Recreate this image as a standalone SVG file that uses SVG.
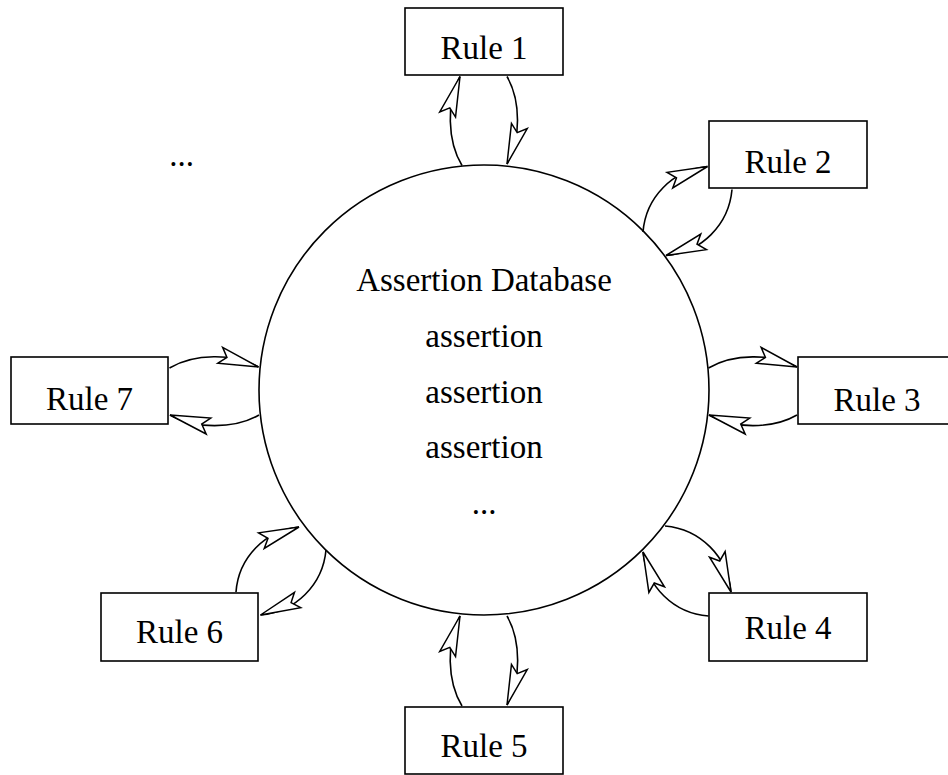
<svg xmlns="http://www.w3.org/2000/svg" width="948" height="775" viewBox="0 0 948 775">
<style>
.box{fill:#fff;stroke:#000;stroke-width:1.6}
.db{fill:#fff;stroke:#000;stroke-width:1.6}
.t{font-family:"Liberation Serif","Times New Roman",serif;font-size:33px;fill:#000;text-anchor:middle}
.c{fill:none;stroke:#000;stroke-width:1.6}
.ah{fill:#fff;stroke:#000;stroke-width:1.5;stroke-linejoin:miter}
</style>
<defs>
<path id="ah" class="ah" d="M0,0 L-40,-8.3 L-33,0 L-40,8.3 Z"/>
</defs>
<rect width="948" height="775" fill="#fff"/>
<g id="node-db">
<circle class="db" cx="484" cy="390" r="225"/>
<text class="t" x="484" y="291">Assertion Database</text>
<text class="t" x="484" y="347">assertion</text>
<text class="t" x="484" y="402.5">assertion</text>
<text class="t" x="484" y="458">assertion</text>
<text class="t" x="484" y="514">...</text>
</g>
<g id="node-rule1"><rect class="box" x="405" y="8" width="158" height="67"/><text class="t" x="484" y="58.5">Rule 1</text></g>
<g id="node-rule2"><rect class="box" x="709" y="121" width="158" height="67"/><text class="t" x="788" y="173">Rule 2</text></g>
<g id="node-rule3"><rect class="box" x="798" y="357" width="158" height="67"/><text class="t" x="877" y="410.5">Rule 3</text></g>
<g id="node-rule4"><rect class="box" x="709" y="593" width="158" height="68"/><text class="t" x="788" y="639">Rule 4</text></g>
<g id="node-rule5"><rect class="box" x="405" y="707" width="158" height="67"/><text class="t" x="484" y="757">Rule 5</text></g>
<g id="node-rule6"><rect class="box" x="101" y="593" width="157" height="68"/><text class="t" x="179.5" y="643">Rule 6</text></g>
<g id="node-rule7"><rect class="box" x="11" y="357" width="157" height="67"/><text class="t" x="89.5" y="410">Rule 7</text></g>
<g id="dots"><text class="t" x="181.5" y="166">...</text></g>
<g id="connectors">
<path class="c" d="M462,165.5 C447.2,141.2 446.3,101.5 460,76.5"/>
<use href="#ah" transform="translate(460,76.5) rotate(-72)"/>
<path class="c" d="M507,76.5 C521,100.7 521,139.8 507,164"/>
<use href="#ah" transform="translate(507,164) rotate(108)"/>
<path class="c" d="M643,232 C645.8,197.2 672.8,169.8 707.5,166.5"/>
<use href="#ah" transform="translate(707.5,166.5) rotate(-20)"/>
<path class="c" d="M732,189.5 C728.9,224.8 701.3,252.4 666,255.5"/>
<use href="#ah" transform="translate(666,255.5) rotate(160)"/>
<path class="c" d="M708.5,368 C732.9,353.6 772.3,353.1 797,367"/>
<use href="#ah" transform="translate(797,367) rotate(17)"/>
<path class="c" d="M797,415 C772.6,429.1 733.4,429.1 709,415"/>
<use href="#ah" transform="translate(709,415) rotate(196)"/>
<path class="c" d="M665,526 C700.3,529.1 727.9,556.7 731,592"/>
<use href="#ah" transform="translate(731,592) rotate(70)"/>
<path class="c" d="M708.5,616 C673.8,613.4 646.4,586.6 643,552"/>
<use href="#ah" transform="translate(643,552) rotate(-110)"/>
<path class="c" d="M462,706 C447,681.4 446.2,641.3 460,616"/>
<use href="#ah" transform="translate(460,616) rotate(-72)"/>
<path class="c" d="M507,616 C521.2,640.7 521.2,680.4 507,705"/>
<use href="#ah" transform="translate(507,705) rotate(108)"/>
<path class="c" d="M236,592 C238.5,557.7 264.8,530.6 299,527"/>
<use href="#ah" transform="translate(299,527) rotate(-20)"/>
<path class="c" d="M326,550 C322.8,584.9 295.4,612.1 260.5,615"/>
<use href="#ah" transform="translate(260.5,615) rotate(158)"/>
<path class="c" d="M169.5,368 C194,353.5 233.7,353 258.5,367"/>
<use href="#ah" transform="translate(258.5,367) rotate(17)"/>
<path class="c" d="M259,415 C234.4,429.2 194.7,429.2 170,415"/>
<use href="#ah" transform="translate(170,415) rotate(196)"/>
</g>
</svg>
